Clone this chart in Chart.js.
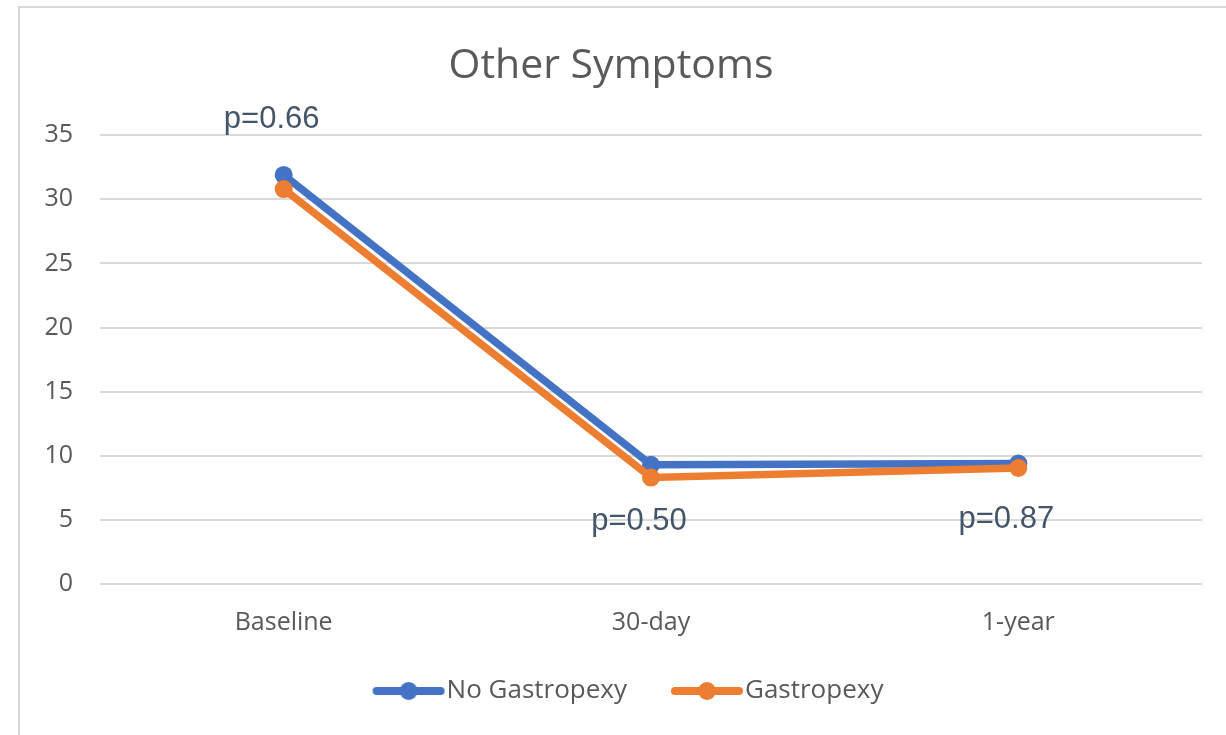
<!DOCTYPE html>
<html>
<head>
<meta charset="utf-8">
<script src="https://cdn.jsdelivr.net/npm/chart.js@4.4.0/dist/chart.umd.min.js"></script>
<style>
    html, body { margin: 0; padding: 0; background: #ffffff; overflow: hidden; }
    #frame {
        position: absolute; left: 18px; top: 6px;
        width: 1300px; height: 800px;
        border: 2px solid #d9d9d9;
    }
    #chartBox { position: absolute; left: 0; top: 0; width: 1226px; height: 735px; }
</style>
</head>
<body>
<div id="frame"></div>
<div id="chartBox"><canvas id="symptomsChart"></canvas></div>
<script>
// Данные графика
const categories = ['Baseline', '30-day', '1-year'];
const noGastropexy = [31.9, 9.3, 9.4];
const gastropexy = [30.8, 8.3, 9.05];
const yTicks = [0, 5, 10, 15, 20, 25, 30, 35];

// Подписи p-значений и их уровень по оси Y
const pLabels = ['p=0.66', 'p=0.50', 'p=0.87'];
const pLabelLevel = [36.2, 4.9, 5.0];

const blue = '#4472C4';
const orange = '#ED7D31';
const textGrey = '#595959';

// Маркер легенды: линия с кружком (сдвинут вправо внутри картинки)
function legendMarker(color) {
    const c = document.createElement('canvas');
    c.width = 119;
    c.height = 20;
    const g = c.getContext('2d');
    g.strokeStyle = color;
    g.lineWidth = 8;
    g.lineCap = 'round';
    g.beginPath();
    g.moveTo(50, 10);
    g.lineTo(114, 10);
    g.stroke();
    g.fillStyle = color;
    g.beginPath();
    g.arc(82, 10, 9, 0, Math.PI * 2);
    g.fill();
    return c;
}

// Плагин для подписей p-значений
const pValuePlugin = {
    id: 'pValues',
    afterDatasetsDraw(chart) {
        const ctx = chart.ctx;
        const x = chart.scales.x;
        const y = chart.scales.y;
        ctx.save();
        ctx.font = '31px "Liberation Sans", Arial, sans-serif';
        ctx.fillStyle = '#44546A';
        ctx.textAlign = 'center';
        ctx.textBaseline = 'middle';
        pLabels.forEach((text, i) => {
            ctx.fillText(text, x.getPixelForValue(i) - 12, y.getPixelForValue(pLabelLevel[i]));
        });
        ctx.restore();
    }
};

const ctx = document.getElementById('symptomsChart').getContext('2d');

new Chart(ctx, {
    type: 'line',
    data: {
        labels: categories,
        datasets: [
            {
                label: 'No Gastropexy',
                data: noGastropexy,
                borderColor: blue,
                backgroundColor: blue,
                borderWidth: 7.5,
                pointRadius: 9,
                pointHoverRadius: 9,
                pointBorderWidth: 0,
                tension: 0,
                order: 1
            },
            {
                label: 'Gastropexy',
                data: gastropexy,
                borderColor: orange,
                backgroundColor: orange,
                borderWidth: 7.5,
                pointRadius: 9,
                pointHoverRadius: 9,
                pointBorderWidth: 0,
                tension: 0,
                order: 0
            }
        ]
    },
    options: {
        responsive: true,
        maintainAspectRatio: false,
        animation: false,
        layout: {
            padding: { left: 20, right: 24, top: 0, bottom: 21 }
        },
        plugins: {
            title: {
                display: true,
                text: 'Other Symptoms',
                color: textGrey,
                font: { family: '"Open Sans", "Noto Sans", sans-serif', size: 41, weight: 'normal', lineHeight: 1.2 },
                padding: { top: 42, bottom: 44 }
            },
            legend: {
                position: 'bottom',
                labels: {
                    usePointStyle: true,
                    pointStyleWidth: 95,
                    padding: 10,
                    color: textGrey,
                    font: { family: '"Open Sans", "Noto Sans", sans-serif', size: 26 },
                    generateLabels(chart) {
                        return chart.data.datasets.map((ds, i) => ({
                            text: ds.label,
                            fillStyle: ds.borderColor,
                            strokeStyle: ds.borderColor,
                            fontColor: textGrey,
                            lineWidth: 0,
                            pointStyle: legendMarker(ds.borderColor),
                            hidden: !chart.isDatasetVisible(i),
                            datasetIndex: i
                        }));
                    }
                }
            },
            tooltip: { enabled: false }
        },
        scales: {
            x: {
                offset: true,
                grid: { display: false, drawTicks: false },
                border: { display: false },
                ticks: {
                    color: textGrey,
                    padding: 24,
                    font: { family: '"Open Sans", "Noto Sans", sans-serif', size: 25 }
                },
                afterFit(scale) { scale.height = 84; }
            },
            y: {
                min: 0,
                max: 35,
                grid: { color: '#d9d9d9', lineWidth: 2, drawTicks: false },
                border: { display: false },
                afterBuildTicks(scale) { scale.ticks = yTicks.map(v => ({ value: v })); },
                ticks: {
                    color: textGrey,
                    padding: 27,
                    font: { family: '"Open Sans", "Noto Sans", sans-serif', size: 25 }
                },
                afterFit(scale) { scale.width = 80; }
            }
        }
    },
    plugins: [pValuePlugin]
});
</script>
</body>
</html>
